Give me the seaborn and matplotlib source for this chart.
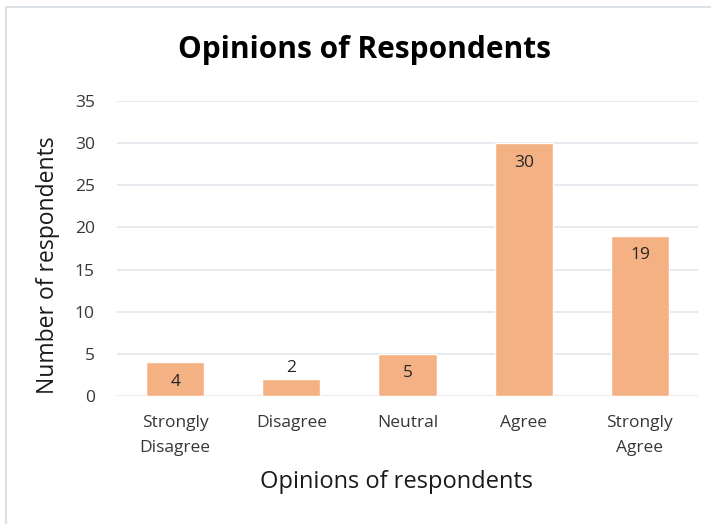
import matplotlib
matplotlib.use("Agg")
import matplotlib.pyplot as plt
import seaborn as sns
import pandas as pd
from matplotlib.patches import Rectangle

categories = ["Strongly\nDisagree", "Disagree", "Neutral", "Agree", "Strongly\nAgree"]
counts = [4, 2, 5, 30, 19]
y_ticks = [0, 5, 10, 15, 20, 25, 30, 35]

df = pd.DataFrame({"opinion": categories, "count": counts})

sns.set_theme(style="white")
plt.rcParams["font.family"] = ["Open Sans", "DejaVu Sans"]

fig = plt.figure(figsize=(7.11, 5.24), dpi=100)
ax = fig.add_axes([0.1646, 0.2443, 0.8171, 0.5630])

# light frame around the chart area (open to the right and bottom edges)
fig.patches.append(Rectangle((6 / 711, -0.1), 1.2, 1.1 - 7 / 524, transform=fig.transFigure,
                             fill=False, edgecolor="#DCE1E8", linewidth=1.5, zorder=0))

sns.barplot(data=df, x="opinion", y="count", color="#F4B183", saturation=1,
            width=0.5, ax=ax, zorder=3)

ax.set_ylim(0, 35)
ax.set_yticks(y_ticks)
ax.grid(axis="y", color="#E1E5EB", linewidth=1.2, zorder=0)
ax.set_axisbelow(True)
for s in ax.spines.values():
    s.set_visible(False)
ax.tick_params(axis="both", length=0, labelsize=12.5, labelcolor="#363636")
ax.tick_params(axis="x", pad=14)
ax.tick_params(axis="y", pad=16)
for lbl in ax.get_xticklabels():
    lbl.set_linespacing(1.75)

ax.set_xlabel("Opinions of respondents", fontsize=17, color="#1a1a1a")
ax.xaxis.set_label_coords((396 - 117) / 581, -(482 - 396) / 295)
ax.set_ylabel("Number of respondents", fontsize=16.5, color="#1a1a1a")
ax.yaxis.set_label_coords(-(117 - 48) / 581, (396 - 265) / 295)
ax.xaxis.label.set_va("center")
ax.yaxis.label.set_va("center")

fig.text(364 / 711, 1 - 50 / 524, "Opinions of Respondents", fontsize=21.5,
         fontweight="bold", color="black", ha="center", va="center")

# value labels: inside the bar end, or above when the bar is too short
for i, v in enumerate(counts):
    offset = -14 if v >= 4 else 8
    ax.annotate(str(v), (i, v), xytext=(0, offset), textcoords="offset points",
                ha="center", va="center", fontsize=12.5, color="#262626", zorder=4)

fig.savefig("out.png", dpi=100)
